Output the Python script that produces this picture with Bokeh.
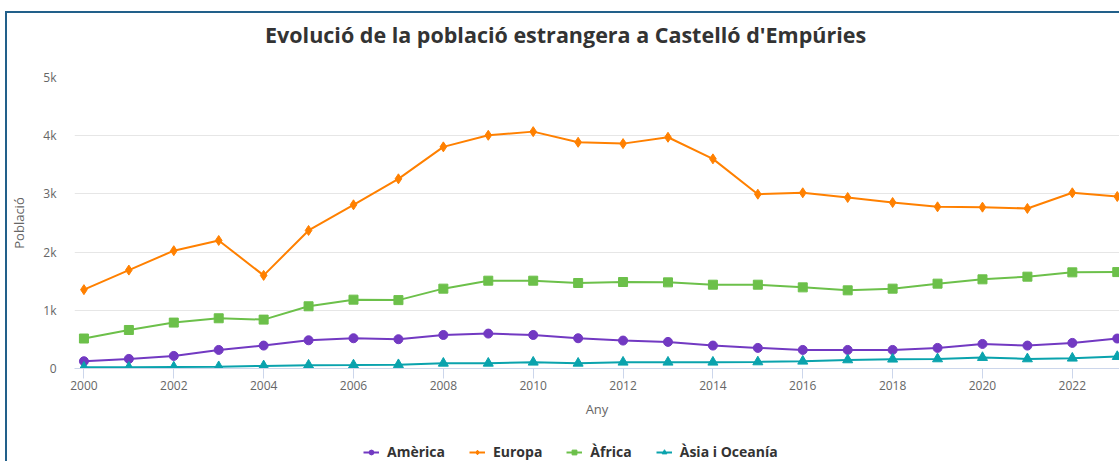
from bokeh.plotting import figure
from bokeh.models import FixedTicker, Legend, LegendItem, Range1d, Div
from bokeh.layouts import column
from bokeh.embed import file_html
from bokeh.resources import INLINE

years = list(range(2000, 2024))
america = [125, 165, 216, 319, 394, 485, 520, 503, 576, 600, 576, 520,
           480, 457, 394, 354, 319, 319, 319, 354, 422, 394, 440, 515]
europa = [1355, 1691, 2024, 2200, 1600, 2372, 2813, 3259, 3808, 4007, 4070, 3887,
          3864, 3973, 3602, 2995, 3019, 2938, 2852, 2778, 2772, 2750, 3019, 2955]
africa = [515, 662, 789, 863, 840, 1069, 1183, 1175, 1372, 1509, 1509, 1469,
          1486, 1480, 1440, 1440, 1394, 1343, 1372, 1458, 1532, 1578, 1652, 1657]
asia = [20, 20, 25, 30, 45, 57, 60, 65, 90, 90, 108, 90,
        108, 108, 108, 113, 125, 148, 160, 165, 188, 165, 177, 205]

series_names = ["Amèrica", "Europa", "Àfrica", "Àsia i Oceanía"]
series_colors = ["#7239c2", "#ff8000", "#6cc04a", "#0aa3ad"]
series_markers = ["circle", "diamond", "square", "triangle"]
series_sizes = [9, 10, 9, 10]

x_ticks = list(range(2000, 2023, 2))
y_ticks = [0, 1000, 2000, 3000, 4000, 5000]
y_tick_labels = ["0", "1k", "2k", "3k", "4k", "5k"]

title_text = "Evolució de la població estrangera a Castelló d'Empúries"
x_title = "Any"
y_title = "Població"

W = 1112
TITLE_H = 42
MAIN_H = 384
LEG_H = 22

title_div = Div(
    text=title_text, width=W, height=TITLE_H, margin=0,
    styles={"font-family": "Open Sans", "font-weight": "bold", "font-size": "21.5px",
            "color": "#333333", "padding-left": "258px", "padding-top": "9px",
            "line-height": "26px", "white-space": "nowrap", "box-sizing": "border-box",
            "background": "white"})

p = figure(width=W, height=MAIN_H, output_backend="svg", toolbar_location=None,
           x_range=Range1d(1999.79, 2023.05), y_range=Range1d(0, 5000),
           min_border_left=66, min_border_right=0, min_border_top=22,
           min_border_bottom=71, margin=0)
p.background_fill_color = "white"
p.border_fill_color = "white"
p.outline_line_color = None

# grid
p.xgrid.grid_line_color = None
p.ygrid.grid_line_color = "#e6e6e6"
p.ygrid.ticker = FixedTicker(ticks=y_ticks)

# x axis
xa = p.xaxis[0]
xa.ticker = FixedTicker(ticks=x_ticks)
xa.axis_line_color = "#ccd6eb"
xa.major_tick_line_color = "#ccd6eb"
xa.major_tick_out = 10
xa.major_tick_in = 0
xa.minor_tick_line_color = None
xa.major_label_standoff = 2
xa.major_label_text_font = "Open Sans"
xa.major_label_text_font_size = "12px"
xa.major_label_text_color = "#666666"
xa.axis_label = x_title
xa.axis_label_text_font = "Open Sans"
xa.axis_label_text_font_style = "normal"
xa.axis_label_text_font_size = "13px"
xa.axis_label_text_color = "#666666"
xa.axis_label_standoff = 7

# y axis
ya = p.yaxis[0]
ya.ticker = FixedTicker(ticks=y_ticks)
ya.major_label_overrides = {t: l for t, l in zip(y_ticks, y_tick_labels)}
ya.axis_line_color = None
ya.major_tick_line_color = None
ya.minor_tick_line_color = None
ya.major_tick_out = 0
ya.major_tick_in = 0
ya.major_label_standoff = 18
ya.major_label_text_font = "Open Sans"
ya.major_label_text_font_size = "12px"
ya.major_label_text_color = "#666666"
ya.axis_label = y_title
ya.axis_label_text_font = "Open Sans"
ya.axis_label_text_font_style = "normal"
ya.axis_label_text_font_size = "13px"
ya.axis_label_text_color = "#666666"
ya.axis_label_standoff = 12

series_vals = [america, europa, africa, asia]
for name, vals, col, mk, sz in zip(series_names, series_vals,
                                   series_colors, series_markers, series_sizes):
    p.line(years, vals, line_color=col, line_width=2)
    p.scatter(years, vals, marker=mk, size=sz, fill_color=col, line_color=col)

# legend in its own strip below the chart (its renderers fall outside this strip's ranges)
lf = figure(width=W, height=LEG_H, output_backend="svg", toolbar_location=None,
            x_range=Range1d(0, 1), y_range=Range1d(0, 1),
            x_axis_location=None, y_axis_location=None, margin=0,
            min_border_left=0, min_border_right=0, min_border_top=0, min_border_bottom=0)
lf.grid.visible = False
lf.outline_line_color = None
lf.background_fill_color = "white"
lf.border_fill_color = "white"

items = []
for name, vals, col, mk, sz in zip(series_names, series_vals,
                                   series_colors, series_markers, series_sizes):
    l = lf.line(years, vals, line_color=col, line_width=2)
    s = lf.scatter(years, vals, marker=mk, size=sz - 1, fill_color=col, line_color=col)
    items.append(LegendItem(label=name, renderers=[l, s]))

legend = Legend(items=items, orientation="horizontal", location=(289, 0))
legend.label_text_font = "Open Sans"
legend.label_text_font_style = "bold"
legend.label_text_font_size = "14px"
legend.label_text_color = "#333333"
legend.glyph_width = 16
legend.glyph_height = 12
legend.label_standoff = 8
legend.spacing = 24
legend.padding = 1
legend.margin = 0
legend.border_line_color = None
legend.background_fill_alpha = 0
lf.add_layout(legend, "center")

layout = column(title_div, p, lf, spacing=0,
                styles={"border-left": "2px solid #22608a",
                        "border-top": "2px solid #22608a",
                        "background": "white"},
                margin=(11, 0, 0, 5))

open("out.html", "w").write(file_html(layout, INLINE))
